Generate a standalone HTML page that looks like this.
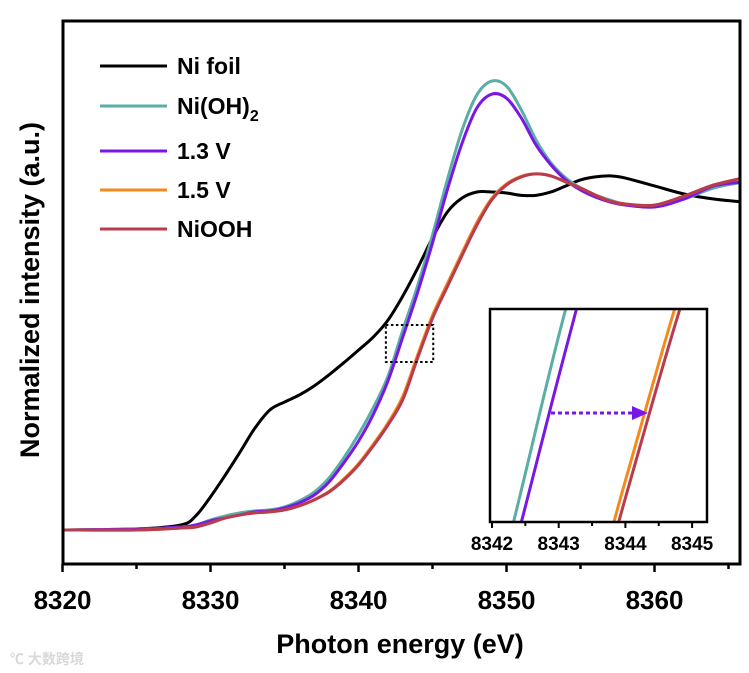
<!DOCTYPE html>
<html><head><meta charset="utf-8"><style>
html,body{margin:0;padding:0;background:#fff;width:749px;height:673px;overflow:hidden}
svg{display:block}
text{font-family:"Liberation Sans",Arial,sans-serif;font-weight:bold;fill:#000}
</style></head><body>
<svg id="chart" width="749" height="673"></svg>
<script>
const energies=[8320,8325,8328,8329,8330,8331,8332,8333,8334,8335,8336,8337,8338,8339,8340,8341,8342,8343,8344,8345,8346,8347,8348,8349,8350,8351,8352,8353,8354,8355,8356,8357,8358,8360,8362,8364,8366];
const niFoil=[0,0.3,1.5,4.2,9.9,16.4,23.3,30.4,35.8,38.2,40.3,43,46.3,49.9,53.7,57.6,62.7,69.9,78.2,87.2,94.9,99.1,100.9,100.9,100.6,99.9,99.9,100.9,102.7,104.5,105.4,105.7,105.1,102.7,100.3,98.8,97.9];
const niOH2=[0,0.3,0.9,1.5,3,4.2,5.1,5.7,6,6.9,8.7,11.3,15.5,21.5,28.5,36.5,46,59.8,73,88.1,104.5,119.4,129.9,134,132.5,125.4,116.4,109.6,105.1,102.1,100,98.5,97.3,96.7,98.8,102.1,103.9];
const v13=[0,0.3,0.9,1.5,2.7,3.6,4.5,5.4,5.7,6.6,8.1,10.4,14.3,20,26.5,34.5,44.6,57.7,71,85.7,101.5,115.5,126,130.1,128.9,123,114.9,109,104.5,101.5,99.4,97.9,97,96.4,98.8,102.7,103.9];
const v15=[0,0,0.6,0.9,2.1,3.6,4.5,5.1,5.4,6,7.2,9,11.5,15.2,19.8,25.6,32,40,52.3,64.1,73.5,82.8,91.8,99,103.3,105.6,106.3,105.7,103.9,102.1,100,98.2,97.3,97,99.7,103,105.1];
const niOOH=[0,0,0.6,0.9,2.1,3.6,4.5,5.1,5.4,6,7.2,9,11.3,14.9,19.4,25.1,31.4,39,51.4,63.2,72.6,82,91,98.5,103,105.4,106.3,105.7,103.9,102.1,100,98.2,97.3,97,99.7,103,105.1];
const seriesNames=["Ni foil","Ni(OH)2","1.3 V","1.5 V","NiOOH"];
const seriesColors=["#000000","#5aaea6","#7a17e6","#f28a1e","#b83b4e"];
const seriesData=[niFoil,niOH2,v13,v15,niOOH];
const xTicks=[8320,8330,8340,8350,8360];
const insetTicks=[8342,8343,8344,8345];

const NS="http://www.w3.org/2000/svg";
const svg=document.getElementById('chart');
function el(tag,attrs,parent){const e=document.createElementNS(NS,tag);for(const k in attrs)e.setAttribute(k,attrs[k]);(parent||svg).appendChild(e);return e;}
const X0=62.5,PX=14.8,L=63,T=21,R=740,B=564;
const xs=E=>X0+(E-8320)*PX;
const ys=v=>530-v*3.35;
const xi=E=>492+(E-8342)*66.7;
const yi=v=>309+(205-3.35*v)*5.76;
function pathD(fx,fy,vals){
  const p=energies.map((E,i)=>[fx(E),fy(vals[i])]);
  let d=`M${p[0][0]},${p[0][1]}`;
  for(let i=0;i<p.length-1;i++){
    const p0=p[i-1]||p[i],p1=p[i],p2=p[i+1],p3=p[i+2]||p[i+1];
    const c1=[p1[0]+(p2[0]-p0[0])/6,p1[1]+(p2[1]-p0[1])/6];
    const c2=[p2[0]-(p3[0]-p1[0])/6,p2[1]-(p3[1]-p1[1])/6];
    d+=` C${c1[0]},${c1[1]} ${c2[0]},${c2[1]} ${p2[0]},${p2[1]}`;
  }
  return d;
}
const defs=el('defs',{});
const cp=el('clipPath',{id:'mainclip'},defs);el('rect',{x:L,y:T,width:R-L,height:B-T},cp);
const cp2=el('clipPath',{id:'insetclip'},defs);el('rect',{x:490,y:309,width:217,height:213},cp2);

const gm=el('g',{'clip-path':'url(#mainclip)'});


seriesData.forEach((vals,i)=>{
  const p=el('path',{d:pathD(xs,ys,vals),fill:'none',stroke:seriesColors[i],'stroke-width':3},gm);
  
  
});
const frame=el('rect',{x:L,y:T,width:R-L,height:B-T,fill:'none',stroke:'#000','stroke-width':3});


for(let E=8320;E<=8365;E+=5){
  const major=E%10===0;
  const t=el('line',{x1:xs(E),x2:xs(E),y1:B,y2:B+(major?8:5),stroke:'#000','stroke-width':2.5});
  
  
}
xTicks.forEach(E=>{
  const t=el('text',{x:xs(E),y:609,'text-anchor':'middle','font-size':26});
  t.textContent=E;
  
  
});
const xt=el('text',{x:400,y:653,'text-anchor':'middle','font-size':27});
xt.textContent='Photon energy (eV)';


const yt=el('text',{x:0,y:0,'text-anchor':'middle','font-size':27,transform:'translate(39,290) rotate(-90)'});
yt.textContent='Normalized intensity (a.u.)';



const lg=el('g',{});


const ly=[66,106,151,190,229];
seriesNames.forEach((n,i)=>{
  const ln=el('line',{x1:100,x2:167,y1:ly[i],y2:ly[i],stroke:seriesColors[i],'stroke-width':3},lg);
  
  
  const tx=el('text',{x:177,y:ly[i]+8,'font-size':23},lg);
  if(n==='Ni(OH)2'){tx.innerHTML='Ni(OH)<tspan font-size="16" dy="7">2</tspan>';}
  else tx.textContent=n;
  
  
});

const zb=el('rect',{x:xs(8341.85),y:325,width:xs(8345.05)-xs(8341.85),height:37,fill:'none',stroke:'#000','stroke-width':2,'stroke-dasharray':'2.5,2.5'});



const ib=el('rect',{x:490,y:309,width:217,height:213,fill:'#fff',stroke:'none'});


const gi=el('g',{'clip-path':'url(#insetclip)'});


seriesData.forEach((vals,i)=>{
  if(i===0)return;
  const p=el('path',{d:pathD(xi,yi,vals),fill:'none',stroke:seriesColors[i],'stroke-width':3},gi);
  
  
});
const ifr=el('rect',{x:490,y:309,width:217,height:213,fill:'none',stroke:'#000','stroke-width':2.5});


for(let E=8342;E<=8345;E+=0.5){
  const major=Number.isInteger(E);
  const t=el('line',{x1:xi(E),x2:xi(E),y1:522,y2:522+(major?6:4),stroke:'#000','stroke-width':2});
  
  
}
insetTicks.forEach(E=>{
  const t=el('text',{x:xi(E),y:550,'text-anchor':'middle','font-size':19,'font-weight':'normal'});
  t.textContent=E;
  
  
});
const ar=el('line',{x1:551,y1:413,x2:634,y2:413,stroke:'#7a17e6','stroke-width':3,'stroke-dasharray':'4,3'});


const ah=el('polygon',{points:'632,406 648,413 632,420',fill:'#7a17e6'});



const wm=el('text',{x:10,y:664,'font-size':14,'font-weight':'normal',style:'fill:#d8d8d8;font-family:"Liberation Sans","Noto Sans CJK SC",sans-serif'});
wm.textContent='℃ 大数跨境';


</script>
</body></html>
